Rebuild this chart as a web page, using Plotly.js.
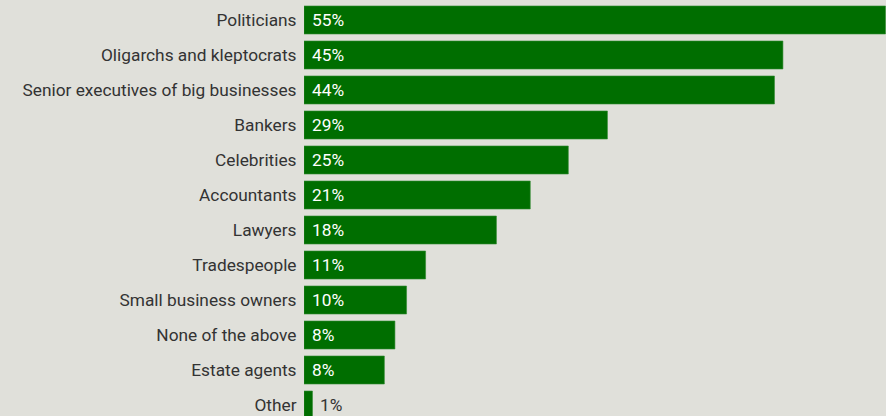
<!DOCTYPE html>
<html>
<head>
<meta charset="utf-8">
<script src="https://cdn.plot.ly/plotly-3.0.1.min.js"></script>
<style>html,body{margin:0;padding:0;background:#e0e0da;}#chart{width:886px;height:416px;}</style>
</head>
<body>
<div id="chart"></div>
<script>
const categories = ["Politicians","Oligarchs and kleptocrats","Senior executives of big businesses","Bankers","Celebrities","Accountants","Lawyers","Tradespeople","Small business owners","None of the above","Estate agents","Other"];
const values = [55.0, 45.3, 44.5, 28.7, 25.0, 21.4, 18.2, 11.5, 9.7, 8.6, 7.6, 0.8];
const labels = ["55%","45%","44%","29%","25%","21%","18%","11%","10%","8%","8%","1%"];

const smallThreshold = 3;
const annotations = categories.map((c, i) => {
  const inside = values[i] >= smallThreshold;
  return {
    x: inside ? 0 : values[i], y: c, xref: 'x', yref: 'y',
    text: labels[i], showarrow: false, xanchor: 'left', xshift: 6,
    font: {family: 'Roboto', size: 17.3, color: inside ? '#ffffff' : '#333333'}
  };
});

const trace = {
  type: 'bar', orientation: 'h', x: values, y: categories,
  marker: {color: '#006e00', line: {color: '#2f8a2f', width: 0.6}},
  hoverinfo: 'none'
};

const layout = {
  width: 886, height: 416,
  margin: {l: 304, r: 0, t: 0, b: 0, pad: 0},
  paper_bgcolor: '#e0e0da', plot_bgcolor: '#e0e0da',
  bargap: 0.2,
  showlegend: false,
  xaxis: {range: [0, 55.05], visible: false, fixedrange: true},
  yaxis: {type: 'category', range: [11.314, -0.571], showgrid: false, zeroline: false, showline: false,
          ticks: 'outside', ticklen: 3, tickcolor: 'rgba(0,0,0,0)',
          tickfont: {family: 'Roboto', size: 17.3, color: '#333333'}},
  annotations: annotations
};

Plotly.newPlot('chart', [trace], layout, {displayModeBar: false, staticPlot: true});
</script>
</body>
</html>
